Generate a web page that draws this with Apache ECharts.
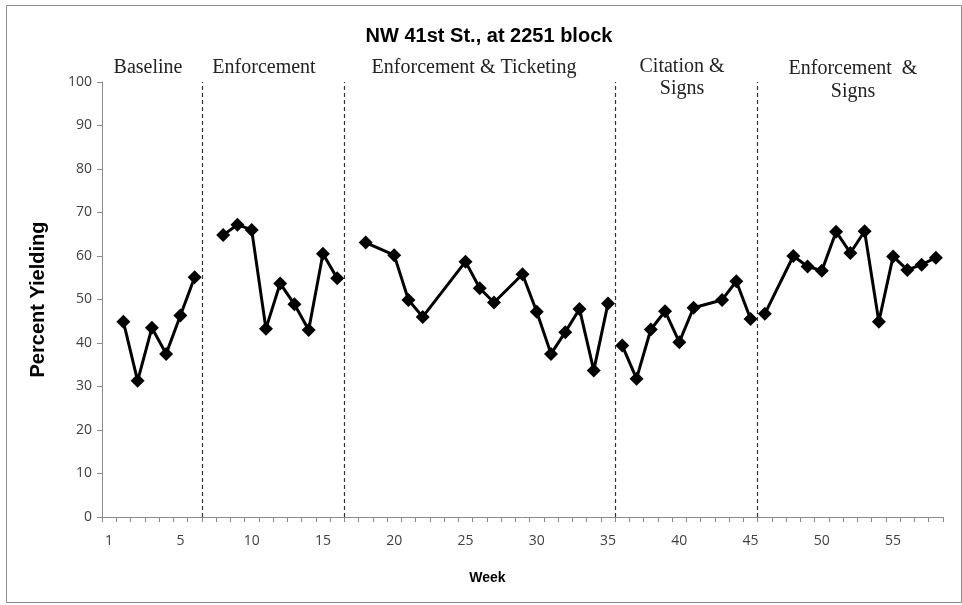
<!DOCTYPE html>
<html>
<head>
<meta charset="utf-8">
<script src="https://cdn.jsdelivr.net/npm/echarts@6/dist/echarts.min.js"></script>
<style>html,body{margin:0;padding:0;background:#fff}#c{width:962px;height:605px}</style>
</head>
<body>
<div id="c"></div>
<script>
// Category slots (week positions on the axis) and shown tick labels
var slotCount = 59;
var tickLabels = ['1', '5', '10', '15', '20', '25', '30', '35', '40', '45', '50', '55'];

// Phase data: slot index and percent yielding
var baselineWeeks = [1, 2, 3, 4, 5, 6];
var baselineValues = [44.9, 31.3, 43.5, 37.5, 46.3, 55.1];

var enforcementWeeks = [8, 9, 10, 11, 12, 13, 14, 15, 16];
var enforcementValues = [64.8, 67.2, 66.0, 43.3, 53.7, 48.9, 43.0, 60.5, 54.9];

var ticketingWeeks = [18, 20, 21, 22, 25, 26, 27, 29, 30, 31, 32, 33, 34, 35];
var ticketingValues = [63.1, 60.2, 49.9, 46.0, 58.7, 52.6, 49.3, 55.8, 47.2, 37.5, 42.5, 47.8, 33.7, 49.1];

var citationWeeks = [36, 37, 38, 39, 40, 41, 43, 44, 45];
var citationValues = [39.4, 31.8, 43.1, 47.3, 40.2, 48.1, 49.9, 54.2, 45.5];

var signsWeeks = [46, 48, 49, 50, 51, 52, 53, 54, 55, 56, 57, 58];
var signsValues = [46.7, 60.0, 57.6, 56.6, 65.6, 60.7, 65.7, 44.9, 59.9, 56.8, 58.0, 59.6];

// Phase change boundaries (in slot units)
var phaseBoundaries = [7, 17, 36, 46];

var categories = [];
for (var i = 0; i < slotCount; i++) categories.push(String(i));

function pairs(w, v) { return w.map(function (x, k) { return [x, v[k]]; }); }

function lineSeries(name, w, v) {
  return {
    name: name, type: 'line', xAxisIndex: 0, yAxisIndex: 0,
    data: pairs(w, v),
    connectNulls: true,
    showSymbol: true, showAllSymbol: true,
    symbol: 'diamond', symbolSize: 14,
    itemStyle: { color: '#000' },
    lineStyle: { color: '#000', width: 3 },
    animation: false
  };
}

var chart = echarts.init(document.getElementById('c'));
var axisGray = '#898989';
var serif = { textAlign: 'center', textVerticalAlign: 'middle', fontFamily: 'Liberation Serif', fontSize: 20, fill: '#222' };
function label(x, y, t) { return { type: 'text', x: x, y: y, style: Object.assign({ text: t }, serif) }; }
var option = {
  animation: false,
  title: {
    text: 'NW 41st St., at 2251 block',
    left: 484, top: 21, textAlign: 'center',
    textStyle: { fontFamily: 'Liberation Sans', fontWeight: 'bold', fontSize: 20, color: '#000' }
  },
  grid: { left: 102, right: 19, top: 82, bottom: 88 },
  xAxis: [{
    type: 'category', data: categories, boundaryGap: true,
    name: 'Week', nameLocation: 'middle', nameGap: 54,
    nameTextStyle: { fontFamily: 'Liberation Sans', fontWeight: 'bold', fontSize: 14, color: '#000', padding: [0, 70, 0, 0] },
    axisLine: { lineStyle: { color: axisGray, width: 1 } },
    axisTick: { show: true, interval: 0, length: 5, lineStyle: { color: axisGray } },
    axisLabel: {
      interval: function (idx) { return idx % 5 === 0; },
      formatter: function (val, idx) { return tickLabels[Math.round(idx / 5)]; },
      margin: 17, fontFamily: 'Open Sans', fontSize: 14, color: '#404040'
    },
    splitLine: { show: false }
  }, {
    type: 'value', min: 0, max: slotCount, show: false
  }],
  yAxis: {
    type: 'value', min: 0, max: 100, interval: 10,
    name: 'Percent Yielding', nameLocation: 'middle', nameGap: 54, nameRotate: 90,
    nameTextStyle: { fontFamily: 'Liberation Sans', fontWeight: 'bold', fontSize: 20, color: '#000' },
    axisLine: { show: true, lineStyle: { color: axisGray, width: 1 } },
    axisTick: { show: true, length: 5, lineStyle: { color: axisGray } },
    axisLabel: { margin: 10, fontFamily: 'Open Sans', fontSize: 14, color: '#404040' },
    splitLine: { show: false }
  },
  series: [
    lineSeries('Baseline', baselineWeeks, baselineValues),
    lineSeries('Enforcement', enforcementWeeks, enforcementValues),
    lineSeries('Enforcement & Ticketing', ticketingWeeks, ticketingValues),
    lineSeries('Citation & Signs', citationWeeks, citationValues),
    lineSeries('Enforcement & Signs', signsWeeks, signsValues),
    {
      type: 'line', xAxisIndex: 1, yAxisIndex: 0, data: [], silent: true,
      markLine: {
        symbol: 'none', silent: true, animation: false,
        label: { show: false },
        lineStyle: { color: '#333', type: [4, 3], width: 1.2 },
        data: phaseBoundaries.map(function (b) { return { xAxis: b }; })
      }
    }
  ],
  graphic: [
    { type: 'rect', shape: { x: 6.5, y: 5.5, width: 955, height: 597 },
      style: { fill: 'none', stroke: '#8c8c8c', lineWidth: 1 }, silent: true },
    label(148, 68, 'Baseline'),
    label(264, 68, 'Enforcement'),
    label(474, 68, 'Enforcement & Ticketing'),
    label(682, 67, 'Citation &'),
    label(682, 89, 'Signs'),
    label(853, 69, 'Enforcement  &'),
    label(853, 92, 'Signs')
  ]
};
chart.setOption(option);
</script>
</body>
</html>
